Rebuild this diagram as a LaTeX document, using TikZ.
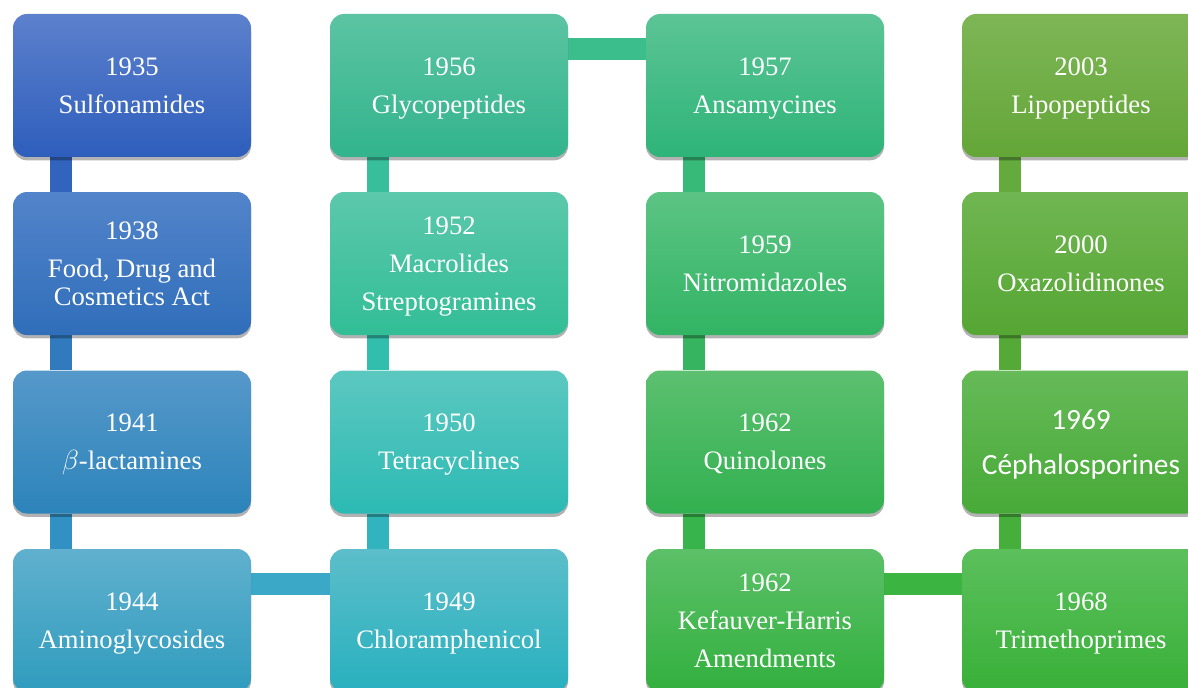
\documentclass[tikz,border=0pt]{standalone}
\usepackage{fontspec}
\setmainfont{Liberation Serif}
\newfontfamily\calfont{Carlito}
\usetikzlibrary{shadows,backgrounds}

\definecolor{topA}{RGB}{92,128,204}  \definecolor{botA}{RGB}{46,94,188}
\definecolor{topB}{RGB}{82,132,202}  \definecolor{botB}{RGB}{48,110,186}
\definecolor{topC}{RGB}{86,152,202}  \definecolor{botC}{RGB}{44,132,186}
\definecolor{topD}{RGB}{96,176,206}  \definecolor{botD}{RGB}{48,156,190}
\definecolor{topE}{RGB}{92,190,202}  \definecolor{botE}{RGB}{40,176,190}
\definecolor{topF}{RGB}{92,200,192}  \definecolor{botF}{RGB}{44,186,180}
\definecolor{topG}{RGB}{92,200,172}  \definecolor{botG}{RGB}{50,190,150}
\definecolor{topH}{RGB}{92,196,162}  \definecolor{botH}{RGB}{50,180,140}
\definecolor{topI}{RGB}{92,196,150}  \definecolor{botI}{RGB}{46,180,120}
\definecolor{topJ}{RGB}{92,196,132}  \definecolor{botJ}{RGB}{50,180,100}
\definecolor{topK}{RGB}{92,192,112}  \definecolor{botK}{RGB}{50,176,80}
\definecolor{topL}{RGB}{92,192,104}  \definecolor{botL}{RGB}{50,176,62}
\definecolor{topM}{RGB}{92,192,92}   \definecolor{botM}{RGB}{56,176,56}
\definecolor{topN}{RGB}{102,186,88}  \definecolor{botN}{RGB}{72,170,56}
\definecolor{topO}{RGB}{112,182,82}  \definecolor{botO}{RGB}{86,166,52}
\definecolor{topP}{RGB}{126,182,86}  \definecolor{botP}{RGB}{100,166,56}

\definecolor{barA}{RGB}{50,100,190}  \definecolor{barB}{RGB}{50,122,190}
\definecolor{barC}{RGB}{50,145,195}  \definecolor{barD}{RGB}{60,168,200}
\definecolor{barE}{RGB}{50,180,190}  \definecolor{barF}{RGB}{50,190,172}
\definecolor{barG}{RGB}{55,190,155}  \definecolor{barH}{RGB}{60,190,140}
\definecolor{barI}{RGB}{55,185,120}  \definecolor{barJ}{RGB}{55,180,95}
\definecolor{barK}{RGB}{55,180,75}   \definecolor{barL}{RGB}{60,180,65}
\definecolor{barM}{RGB}{70,175,60}   \definecolor{barN}{RGB}{85,170,55}
\definecolor{barO}{RGB}{100,170,60}

\begin{document}
\begin{tikzpicture}[x=0.75pt,y=-0.75pt,
  box/.style 2 args={rounded corners=10.5pt, minimum width=178.5pt, minimum height=107.25pt,
    inner sep=0pt, align=center, text=white, text depth=0pt, font=\fontsize{20}{21}\selectfont,
    top color=#1, bottom color=#2,
    drop shadow={shadow xshift=0pt, shadow yshift=-2.5pt, opacity=0.3, fill=black}},
  bar/.style={line width=16.5pt, line cap=butt, draw=#1}]

\useasboundingbox (0,0) rectangle (1188,688);

% first column
\node[box={topA}{botA}] (sulfa) at (132,85.5) {1935\\[7.5pt]Sulfonamides};
\node[box={topB}{botB}] (fdc) at (132,263.5) {1938\\[7.5pt]Food, Drug and\\Cosmetics Act};
\node[box={topC}{botC}] (beta) at (132,442) {1941\\[7.5pt]$\beta$-lactamines};
\node[box={topD}{botD}] (amino) at (132,620.5) {1944\\[7.5pt]Aminoglycosides};

% second column
\node[box={topE}{botE}] (chloram) at (449,620.5) {1949\\[7.5pt]Chloramphenicol};
\node[box={topF}{botF}] (tetra) at (449,442) {1950\\[7.5pt]Tetracyclines};
\node[box={topG}{botG}] (macro) at (449,263.5) {1952\\[7.5pt]Macrolides\\[7.5pt]Streptogramines};
\node[box={topH}{botH}] (glyco) at (449,85.5) {1956\\[7.5pt]Glycopeptides};

% third column
\node[box={topI}{botI}] (ansa) at (765,85.5) {1957\\[7.5pt]Ansamycines};
\node[box={topJ}{botJ}] (nitro) at (765,263.5) {1959\\[7.5pt]Nitromidazoles};
\node[box={topK}{botK}] (quino) at (765,442) {1962\\[7.5pt]Quinolones};
\node[box={topL}{botL}] (kefau) at (765,620.5) {1962\\[7.5pt]Kefauver-Harris\\[7.5pt]Amendments};

% fourth column
\node[box={topM}{botM}] (trime) at (1081,620.5) {1968\\[7.5pt]Trimethoprimes};
\node[box={topN}{botN}, font=\calfont\fontsize{22}{34}\selectfont] (cepha) at (1081,442) {1969\\Céphalosporines};
\node[box={topO}{botO}] (oxa) at (1081,263.5) {2000\\[7.5pt]Oxazolidinones};
\node[box={topP}{botP}] (lipo) at (1081,85.5) {2003\\[7.5pt]Lipopeptides};

\begin{pgfonlayer}{background}
\draw[bar=barA] ([xshift=36pt]sulfa.south west) -- ([xshift=36pt]fdc.north west);
\draw[bar=barB] ([xshift=36pt]fdc.south west) -- ([xshift=36pt]beta.north west);
\draw[bar=barC] ([xshift=36pt]beta.south west) -- ([xshift=36pt]amino.north west);
\draw[bar=barD] ([yshift=-26.25pt]amino.north east) -- ([yshift=-26.25pt]chloram.north west);
\draw[bar=barE] ([xshift=36pt]chloram.north west) -- ([xshift=36pt]tetra.south west);
\draw[bar=barF] ([xshift=36pt]tetra.north west) -- ([xshift=36pt]macro.south west);
\draw[bar=barG] ([xshift=36pt]macro.north west) -- ([xshift=36pt]glyco.south west);
\draw[bar=barH] ([yshift=-26.25pt]glyco.north east) -- ([yshift=-26.25pt]ansa.north west);
\draw[bar=barI] ([xshift=36pt]ansa.south west) -- ([xshift=36pt]nitro.north west);
\draw[bar=barJ] ([xshift=36pt]nitro.south west) -- ([xshift=36pt]quino.north west);
\draw[bar=barK] ([xshift=36pt]quino.south west) -- ([xshift=36pt]kefau.north west);
\draw[bar=barL] ([yshift=-26.25pt]kefau.north east) -- ([yshift=-26.25pt]trime.north west);
\draw[bar=barM] ([xshift=36pt]trime.north west) -- ([xshift=36pt]cepha.south west);
\draw[bar=barN] ([xshift=36pt]cepha.north west) -- ([xshift=36pt]oxa.south west);
\draw[bar=barO] ([xshift=36pt]oxa.north west) -- ([xshift=36pt]lipo.south west);
\end{pgfonlayer}

\end{tikzpicture}
\end{document}
